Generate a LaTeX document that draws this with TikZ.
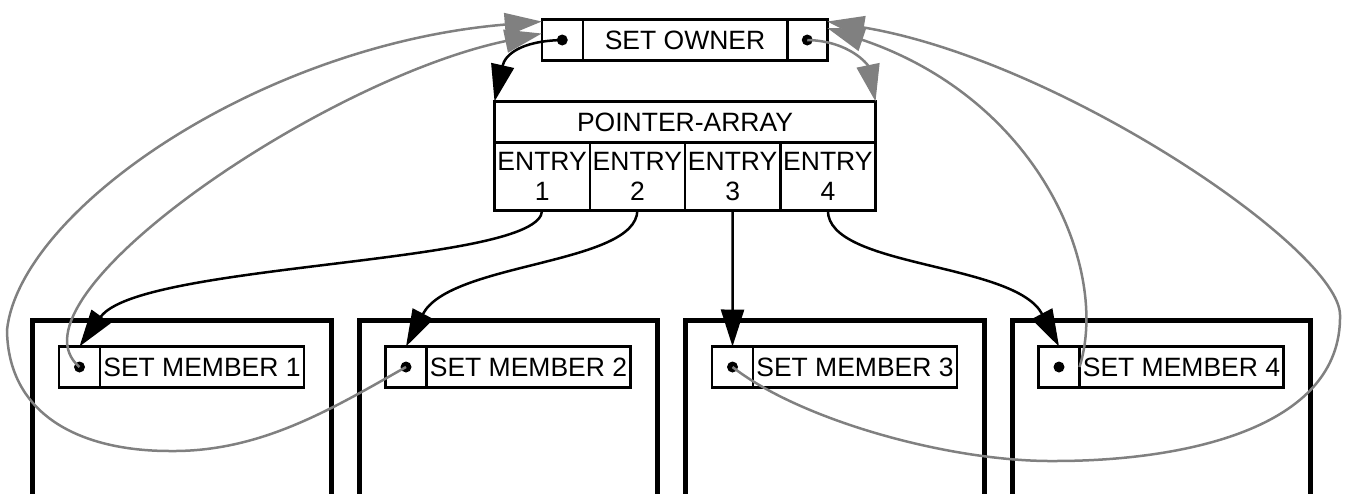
\documentclass[tikz,border=0pt]{standalone}
\usepackage{fontspec}
\setmainfont{Liberation Sans}
\usetikzlibrary{arrows.meta, positioning}

\tikzset{
  cell/.style={draw, line width=2.5pt, inner sep=0pt, outer sep=0pt, align=center,
    minimum height=41pt, font=\fontsize{26.5}{30}\selectfont},
  ptr/.style={cell, minimum width=41pt},
  txt/.style={cell, minimum width=204pt},
  entry/.style={cell, minimum width=95.25pt, minimum height=68pt},
  member/.style={line width=5pt},
  link/.style={line width=2.5pt, -{Triangle[length=37pt,width=23pt]}},
  back/.style={link, gray},
}

\begin{document}
\begin{tikzpicture}[x=1pt,y=-1pt]
\useasboundingbox (0,0) rectangle (1348,493);

% set owner record
\node[ptr] (ownL) at (562.25,40) {};
\node[txt, minimum width=204.5pt, right=0pt of ownL] (ownM) {SET OWNER};
\node[ptr, minimum width=40pt, right=0pt of ownM] (ownR) {};

% pointer array
\node[cell, minimum width=381pt] (pa) at (685,122) {POINTER-ARRAY};
\node[entry, anchor=north west] (e1) at (pa.south west) {ENTRY\\1};
\node[entry, right=0pt of e1] (e2) {ENTRY\\2};
\node[entry, right=0pt of e2] (e3) {ENTRY\\3};
\node[entry, right=0pt of e3] (e4) {ENTRY\\4};

% set members
\draw[member] (32.5,497) |- (331,320) -- (331,497);
\draw[member] (359,497) |- (657.5,320) -- (657.5,497);
\draw[member] (685.5,497) |- (984,320) -- (984,497);
\draw[member] (1012,497) |- (1310.5,320) -- (1310.5,497);
\node[ptr] (m1) at (79.5,367) {};
\node[txt, right=0pt of m1] (t1) {SET MEMBER 1};
\node[ptr] (m2) at (406,367) {};
\node[txt, right=0pt of m2] (t2) {SET MEMBER 2};
\node[ptr] (m3) at (732.5,367) {};
\node[txt, right=0pt of m3] (t3) {SET MEMBER 3};
\node[ptr] (m4) at (1059,367) {};
\node[txt, right=0pt of m4] (t4) {SET MEMBER 4};

% pointer dots
\foreach \p in {ownL, ownR, m1, m2, m3, m4}
  \fill (\p) circle (5.5);

% owner -> array
\draw[link] (ownL.center) .. controls (520,41) and (505,55) .. (pa.north west);
\draw[back] (ownR.center) .. controls (850,41) and (868,65) .. (pa.north east);

% entries -> members
\draw[link] (e1.south) .. controls (541,265) and (140,262) .. (m1.north);
\draw[link] (e2.south) .. controls (636,265) and (450,262) .. (m2.north);
\draw[link] (e3.south) -- (m3.north);
\draw[link] (e4.south) .. controls (828,268) and (1015,262) .. (m4.north);

% members -> owner
\draw[back] (m1.center) .. controls (0,300) and (320,80) .. ([yshift=-14pt]ownL.north west);
\draw[back] (m2.center) .. controls (330,410) and (260,452) .. (170,451)
  .. controls (80,451) and (8,415) .. (7,330)
  .. controls (20,210) and (260,45) .. ([yshift=-2pt]ownL.north west);
\draw[back] (m3.center) .. controls (800,420) and (950,462) .. (1055,461)
  .. controls (1180,461) and (1342,430) .. (1340,315)
  .. controls (1340,250) and (1060,60) .. ([yshift=-2pt]ownR.north east);
\draw[back] (m4.east) .. controls (1110,270) and (1040,100) .. ([yshift=-8.5pt]ownR.north east);
\end{tikzpicture}
\end{document}
